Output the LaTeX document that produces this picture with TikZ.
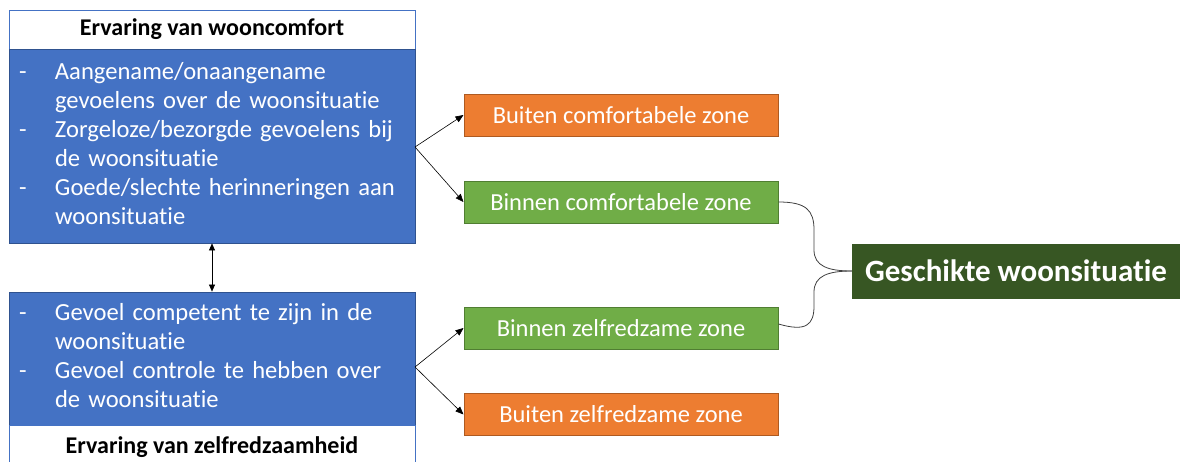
\documentclass[tikz,border=0pt]{standalone}
\usepackage{fontspec}
\setmainfont{Carlito}[Ligatures={NoCommon}]
\usetikzlibrary{arrows.meta}
\definecolor{bluefill}{HTML}{4472C4}
\definecolor{blueline}{HTML}{2F528F}
\definecolor{orfill}{HTML}{ED7D31}
\definecolor{orline}{HTML}{AE5A21}
\definecolor{grfill}{HTML}{70AD47}
\definecolor{grline}{HTML}{507E32}
\definecolor{dkgreen}{HTML}{375623}
\tikzset{
  hdrbox/.style={draw=bluefill, fill=white, line width=0.8pt, minimum width=406pt, inner sep=0pt, font=\fontsize{24}{29}\selectfont\bfseries, text=black},
  bodybox/.style={draw=blueline, fill=bluefill, line width=0.8pt, minimum width=406pt, inner sep=0pt, text width=386pt, text=white, font=\fontsize{24.6}{29}\selectfont},
  zonebox/.style={line width=1pt, minimum width=314pt, minimum height=42pt, inner sep=0pt, text=white, font=\fontsize{24.5}{29}\selectfont},
  orbox/.style={zonebox, draw=orline, fill=orfill},
  grbox/.style={zonebox, draw=grline, fill=grfill},
  arr/.style={-{Triangle[length=8pt,width=6.5pt]}, line width=0.6pt, black},
  brace/.style={line width=0.8pt, draw=black!75},
}
\begin{document}
\begin{tikzpicture}[x=1pt,y=-1pt]
\useasboundingbox (0,0) rectangle (1180,461);
% top block
\node[hdrbox, minimum height=39pt] (tophdr) at (212,29.5) {Ervaring van wooncomfort};
\node[bodybox, minimum height=194pt] (topbody) at (212,146) {%
\begin{tabular}{@{}p{36pt}@{}l@{}}
- & Aangename/onaangename\\
  & gevoelens over de woonsituatie\\
- & Zorgeloze/bezorgde gevoelens bij\\
  & de woonsituatie\\
- & Goede/slechte herinneringen aan\\
  & woonsituatie
\end{tabular}};
% bottom block
\node[bodybox, minimum height=133pt] (botbody) at (212,358.5) {%
\begin{tabular}{@{}p{36pt}@{}l@{}}
- & Gevoel competent te zijn in de\\
  & woonsituatie\\
- & Gevoel controle te hebben over\\
  & de woonsituatie
\end{tabular}};
\node[hdrbox, minimum height=44pt] (bothdr) at (212,447) {Ervaring van zelfredzaamheid};
% zones
\node[orbox] (bc) at (621,115) {Buiten comfortabele zone};
\node[grbox] (ic) at (621,202) {Binnen comfortabele zone};
\node[grbox] (iz) at (621,328) {Binnen zelfredzame zone};
\node[orbox] (bz) at (621,414.5) {Buiten zelfredzame zone};
\node[draw=dkgreen, fill=dkgreen, minimum width=328pt, minimum height=54pt, inner sep=0pt, text=white, font=\fontsize{31}{36}\selectfont\bfseries] (gw) at (1016,271) {Geschikte woonsituatie};
% connectors
\coordinate (ts) at (415,147);
\coordinate (bs) at (415,367);
\draw[{Triangle[length=7pt,width=6pt]}-{Triangle[length=7pt,width=6pt]}, line width=0.6pt] (topbody.south) -- (botbody.north);
\draw[arr] (ts) -- (bc.west);
\draw[arr] (ts) -- (ic.west);
\draw[arr] (bs) -- (iz.west);
\draw[arr] (bs) -- (bz.west);
\draw[brace] (ic.east) .. controls (806,202) and (814,210) .. (814,230) -- (814,250) .. controls (814,266) and (828,271) .. (gw.west);
\draw[brace] ([yshift=4pt]iz.east) .. controls (806,332) and (814,325) .. (814,306) -- (814,292) .. controls (814,276) and (828,271) .. (gw.west);
\end{tikzpicture}
\end{document}
